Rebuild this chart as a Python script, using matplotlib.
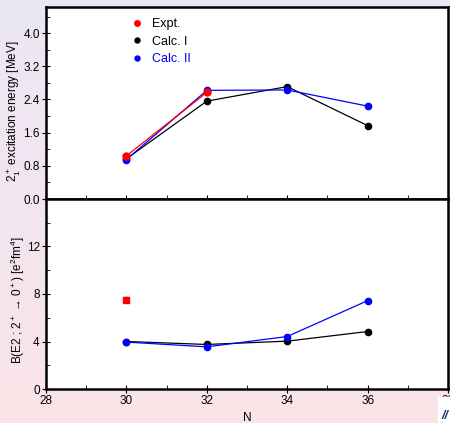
import numpy as np
import matplotlib.pyplot as plt
from matplotlib.colors import LinearSegmentedColormap

plt.rcParams['font.family'] = ['Liberation Sans', 'DejaVu Sans']
plt.rcParams['mathtext.fontset'] = 'custom'
plt.rcParams['mathtext.rm'] = 'Liberation Sans'
plt.rcParams['mathtext.it'] = 'Liberation Sans'

# neutron number
n_expt = [30, 32]
n_calc = [30, 32, 34, 36]

# 2+ excitation energy [MeV]
e_expt = [1.04, 2.57]
e_calc1 = [0.97, 2.36, 2.71, 1.77]
e_calc2 = [0.95, 2.62, 2.63, 2.24]

# B(E2) [e^2 fm^4]
be2_n_expt = [30]
be2_expt = [7.52]
be2_expt_err = [0.2]
be2_calc1 = [4.0, 3.75, 4.03, 4.84]
be2_calc2 = [3.95, 3.55, 4.42, 7.44]

W, H = 450, 423
fig = plt.figure(figsize=(W / 100, H / 100), dpi=100)

# soft lavender -> pink background
bg = fig.add_axes([0, 0, 1, 1], zorder=-10)
cmap = LinearSegmentedColormap.from_list('bg', ['#ebe7f5', '#fae4e8'])
bg.imshow(np.linspace(0, 1, 256).reshape(-1, 1), aspect='auto', cmap=cmap,
          extent=[0, 1, 0, 1], origin='upper')
bg.set_axis_off()

left, right = 46 / W, 448 / W
ax1 = fig.add_axes([left, 1 - 199 / H, right - left, 192 / H])
ax2 = fig.add_axes([left, 1 - 389 / H, right - left, 190 / H])

fs = 8.5
for ax in (ax1, ax2):
    ax.set_xlim(28, 38)
    ax.set_xticks([28, 30, 32, 34, 36, 38])
    ax.set_xticks([29, 31, 33, 35, 37], minor=True)
    for s in ax.spines.values():
        s.set_linewidth(1.8)
    ax.tick_params(which='major', direction='inout', length=6, width=0.8,
                   labelsize=fs, pad=1.5, colors='black')
    ax.tick_params(which='minor', direction='in', length=3, width=0.6)

# top panel: excitation energies
ax1.plot(n_calc, e_calc1, '-o', color='black', lw=0.9, ms=4.5, label='Calc. I')
ax1.plot(n_calc, e_calc2, '-o', color='blue', lw=0.9, ms=4.5, label='Calc. II')
ax1.plot(n_expt, e_expt, '-o', color='red', lw=0.9, ms=5, label='Expt.')
ax1.set_ylim(0, 4.63)
ax1.set_yticks([0.0, 0.8, 1.6, 2.4, 3.2, 4.0])
ax1.set_yticks(np.arange(0.4, 4.6, 0.8), minor=True)
ax1.set_yticklabels(['0.0', '0.8', '1.6', '2.4', '3.2', '4.0'])
ax1.tick_params(axis='x', labelbottom=False)
ax1.set_ylabel('2$_1^+$ excitation energy [MeV]', fontsize=fs)
ax1.yaxis.set_label_coords(-0.058, 0.46)

h, l = ax1.get_legend_handles_labels()
order = [2, 0, 1]
leg = ax1.legend([h[i] for i in order], [l[i] for i in order],
                 loc='upper left', bbox_to_anchor=(0.19, 1.0), frameon=False,
                 fontsize=9, handlelength=0.6, handletextpad=0.9,
                 labelspacing=0.45, markerscale=0.8)
for line in leg.get_lines():
    line.set_linestyle('none')
for t, c in zip(leg.get_texts(), ['black', 'black', 'blue']):
    t.set_color(c)

# bottom panel: B(E2)
ax2.plot(n_calc, be2_calc1, '-o', color='black', lw=0.9, ms=4.5)
ax2.plot(n_calc, be2_calc2, '-o', color='blue', lw=0.9, ms=4.5)
ax2.errorbar(be2_n_expt, be2_expt, yerr=be2_expt_err, fmt='s', color='red',
             ms=4, capsize=1.5, elinewidth=0.8)
ax2.set_ylim(0, 16)
ax2.set_yticks([0, 4, 8, 12])
ax2.set_yticks([2, 6, 10, 14], minor=True)
ax2.set_ylabel('B(E2 ; 2$^+$ → 0$^+$) [e$^2$fm$^4$]', fontsize=fs)
ax2.yaxis.set_label_coords(-0.048, 0.47)
ax2.set_xlabel('N', fontsize=fs)
ax2.xaxis.set_label_coords(0.5, -0.12)

# logo fragment in the corner
fig.patches.append(plt.Rectangle((438 / W, 0), 12 / W, 26 / H,
                                 transform=fig.transFigure, color='white',
                                 zorder=5))
fig.text(441 / W, 1 - 416 / H, '//', color='#1f2f6f', fontsize=9,
         fontweight='bold', style='italic', va='center', zorder=6)

fig.savefig('out.png', dpi=100)
